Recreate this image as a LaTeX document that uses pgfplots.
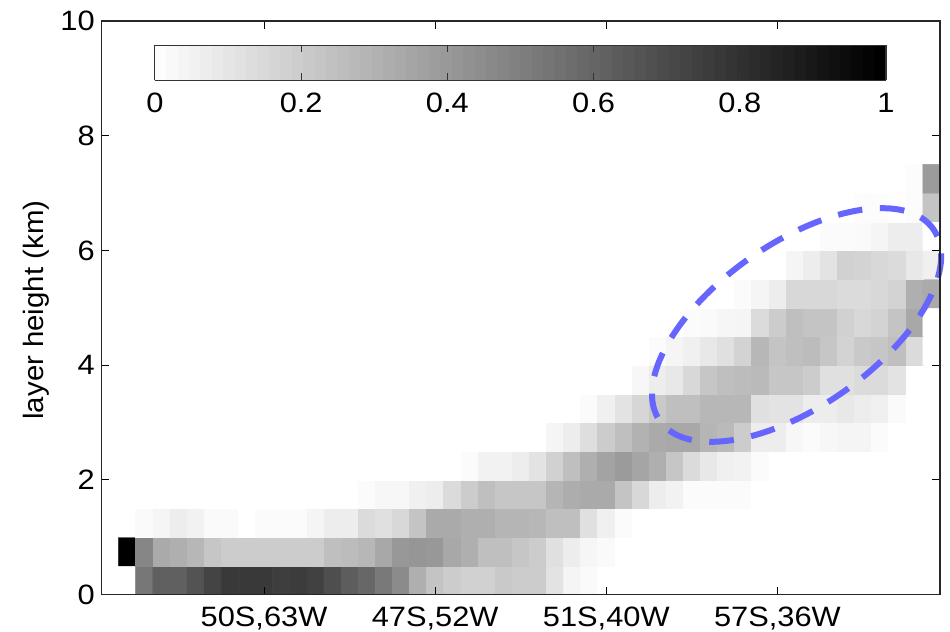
\documentclass[border=0pt]{standalone}
\usepackage{fontspec}
\setmainfont[FakeStretch=1.1]{Liberation Sans}
\newfontfamily\labfont[FakeStretch=1.05]{Liberation Sans}
\usepackage{pgfplots}
\pgfplotsset{compat=1.18}
\definecolor{ringblue}{HTML}{6666FF}
\begin{document}
\begin{tikzpicture}[x=1pt,y=1pt]
\useasboundingbox (0,0) rectangle (712.5,474);
\begin{axis}[
  at={(76.1pt,28.1pt)}, anchor=south west,
  scale only axis, width=628.9pt, height=430.1pt,
  xmin=-1, xmax=48, ymin=0, ymax=10,
  axis on top,
  axis line style={black!85, line width=0.9pt},
  tick style={black, line width=0.7pt},
  major tick length=6pt,
  tick align=inside, tick pos=both,
  xtick={8.5,18.5,28.5,38.5},
  xticklabels={{50S,63W},{47S,52W},{51S,40W},{57S,36W}},
  ytick={0,2,4,6,8,10},
  tick label style={font=\fontsize{21}{25}\selectfont, /pgf/number format/assume math mode=true},
  xticklabel style={yshift=-6pt},
  yticklabel style={xshift=-1.5pt},
  ylabel={layer height (km)},
  ylabel style={font=\labfont\fontsize{21}{25}\selectfont, at={(axis description cs:-0.078,0.496)}, anchor=center},
  clip=false,
  colormap={wb}{color=(white) color=(black)},
  point meta min=0, point meta max=1,
  colorbar horizontal, colorbar sampled,
  colorbar style={
    samples=65,
    at={(0.0638,0.958)}, anchor=north west,
    width=548.25pt, height=26.25pt,
    axis on top,
    xtick={0,0.2,0.4,0.6,0.8,1},
    xticklabels={0,0.2,0.4,0.6,0.8,1},
    ytick=\empty,
    tick align=inside, xtick pos=both, xticklabel pos=lower,
    major tick length=5pt,
    axis line style={black!80, line width=0.8pt},
    tick style={black!80, line width=0.8pt},
    xticklabel style={yshift=-6pt},
  },
]
\addplot[matrix plot*, mesh/cols=48, point meta=\thisrow{v}] table[row sep=\\,
  x expr={mod(\coordindex,48)+0.5}, y expr={floor(\coordindex/48+0.001)*0.5+0.25}] {
v\\
0\\.53\\.62\\.62\\.67\\.73\\.77\\.77\\.77\\.75\\.76\\.74\\.69\\.63\\.59\\.52\\.45\\.31\\.23\\.2\\.18\\.18\\.21\\.2\\.2\\.11\\.04\\.02\\
0\\0\\0\\0\\0\\0\\0\\0\\0\\0\\
0\\0\\0\\0\\0\\0\\0\\0\\0\\0\\
1\\.47\\.33\\.31\\.28\\.22\\.2\\.2\\.2\\.2\\.2\\.2\\.25\\.26\\.28\\.34\\.4\\.41\\.4\\.34\\.31\\.25\\.25\\.22\\.2\\.12\\.07\\.035\\.02\\
0\\0\\0\\0\\0\\0\\0\\0\\0\\0\\
0\\0\\0\\0\\0\\0\\0\\0\\0\\
0\\.02\\.04\\.07\\.05\\.02\\.02\\0\\.015\\.015\\.015\\.04\\.07\\.07\\.14\\.12\\.15\\.23\\.33\\.33\\.31\\.31\\.29\\.29\\.28\\.25\\.25\\.12\\.06\\.015\\
0\\0\\0\\0\\0\\0\\0\\0\\0\\0\\
0\\0\\0\\0\\0\\0\\0\\0\\
0\\0\\0\\0\\0\\0\\0\\0\\0\\0\\
0\\0\\0\\0\\
.015\\.03\\.03\\.06\\.07\\.14\\.2\\.25\\.22\\.22\\.22\\.29\\.32\\.33\\.33\\.23\\.15\\.07\\.05\\.015\\.015\\.015\\.015\\
0\\0\\0\\0\\0\\0\\0\\0\\0\\0\\
0\\
0\\0\\0\\0\\0\\0\\0\\0\\0\\0\\
0\\0\\0\\0\\0\\0\\0\\0\\0\\0\\
.015\\.05\\.05\\.07\\.11\\.18\\.25\\.31\\.36\\.39\\.35\\.31\\.22\\.14\\.09\\.06\\.05\\.015\\
0\\0\\0\\0\\0\\0\\0\\0\\0\\0\\
0\\0\\0\\0\\0\\0\\0\\0\\0\\0\\
0\\0\\0\\0\\0\\0\\0\\0\\0\\0\\
0\\0\\0\\0\\0\\
.04\\.07\\.13\\.2\\.25\\.3\\.33\\.34\\.34\\.29\\.27\\.2\\.07\\.07\\.03\\.015\\.03\\.04\\.04\\.015\\
0\\0\\0\\
0\\0\\0\\0\\0\\0\\0\\0\\0\\0\\
0\\0\\0\\0\\0\\0\\0\\0\\0\\0\\
0\\0\\0\\0\\0\\0\\0\\
.015\\.06\\.11\\.16\\.21\\.25\\.25\\.28\\.28\\.28\\.12\\.11\\.11\\.07\\.07\\.09\\.07\\.06\\.02\\
0\\0\\
0\\0\\0\\0\\0\\0\\0\\0\\0\\0\\
0\\0\\0\\0\\0\\0\\0\\0\\0\\0\\
0\\0\\0\\0\\0\\0\\0\\0\\0\\0\\
.03\\.07\\.09\\.15\\.22\\.25\\.26\\.27\\.22\\.22\\.2\\.12\\.12\\.14\\.14\\.11\\
0\\0\\
0\\0\\0\\0\\0\\0\\0\\0\\0\\0\\
0\\0\\0\\0\\0\\0\\0\\0\\0\\0\\
0\\0\\0\\0\\0\\0\\0\\0\\0\\0\\
0\\
.015\\.04\\.06\\.09\\.12\\.17\\.28\\.23\\.25\\.26\\.22\\.17\\.21\\.22\\.25\\.14\\
0\\
0\\0\\0\\0\\0\\0\\0\\0\\0\\0\\
0\\0\\0\\0\\0\\0\\0\\0\\0\\0\\
0\\0\\0\\0\\0\\0\\0\\0\\0\\0\\
0\\0\\0\\
.015\\.02\\.035\\.04\\.14\\.2\\.25\\.23\\.23\\.18\\.15\\.17\\.23\\.34\\
0\\
0\\0\\0\\0\\0\\0\\0\\0\\0\\0\\
0\\0\\0\\0\\0\\0\\0\\0\\0\\0\\
0\\0\\0\\0\\0\\0\\0\\0\\0\\0\\
0\\0\\0\\0\\0\\0\\
.015\\.04\\.07\\.15\\.15\\.15\\.14\\.14\\.15\\.17\\.31\\.33\\
0\\0\\0\\0\\0\\0\\0\\0\\0\\0\\
0\\0\\0\\0\\0\\0\\0\\0\\0\\0\\
0\\0\\0\\0\\0\\0\\0\\0\\0\\0\\
0\\0\\0\\0\\0\\0\\0\\0\\0\\
.04\\.07\\.11\\.18\\.17\\.15\\.14\\.09\\.06\\
0\\0\\0\\0\\0\\0\\0\\0\\0\\0\\
0\\0\\0\\0\\0\\0\\0\\0\\0\\0\\
0\\0\\0\\0\\0\\0\\0\\0\\0\\0\\
0\\0\\0\\0\\0\\0\\0\\0\\0\\0\\
0\\
.015\\.015\\.02\\.04\\.07\\.07\\
0\\
0\\0\\0\\0\\0\\0\\0\\0\\0\\0\\
0\\0\\0\\0\\0\\0\\0\\0\\0\\0\\
0\\0\\0\\0\\0\\0\\0\\0\\0\\0\\
0\\0\\0\\0\\0\\0\\0\\0\\0\\0\\
0\\0\\0\\
.01\\.01\\.005\\.01\\.23\\
0\\0\\0\\0\\0\\0\\0\\0\\0\\0\\
0\\0\\0\\0\\0\\0\\0\\0\\0\\0\\
0\\0\\0\\0\\0\\0\\0\\0\\0\\0\\
0\\0\\0\\0\\0\\0\\0\\0\\0\\0\\
0\\0\\0\\0\\0\\0\\
.01\\.39\\
};
\draw[ringblue, line width=4.5pt, dash pattern=on 18.5pt off 13.2pt, dash phase=5.25pt, rotate around={35:(axis cs:39.62,4.70)}]
  (axis cs:39.62,4.70) ellipse [x radius=125.25pt, y radius=61.2pt];
\end{axis}
\end{tikzpicture}
\end{document}
